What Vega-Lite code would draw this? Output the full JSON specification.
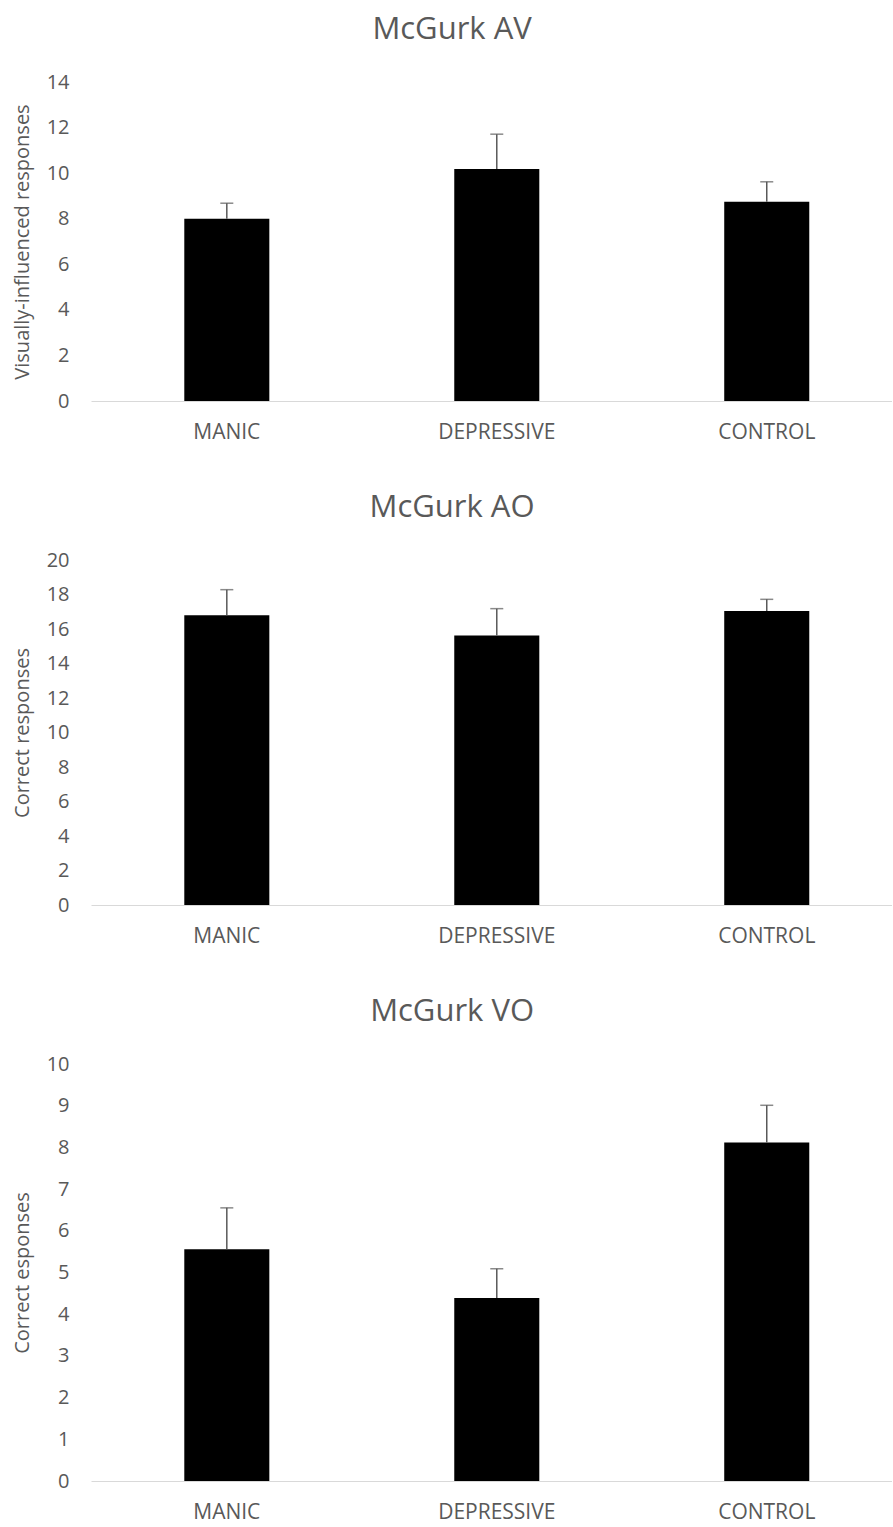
{
  "$schema": "https://vega.github.io/schema/vega-lite/v6.json",
  "background": "white",
  "padding": {"left": 12, "top": 14, "right": 0, "bottom": 0},
  "spacing": 50,
  "datasets": {
    "av": [
      {"group": "MANIC", "mean": 8.0, "upper": 8.68},
      {"group": "DEPRESSIVE", "mean": 10.18, "upper": 11.71},
      {"group": "CONTROL", "mean": 8.75, "upper": 9.62}
    ],
    "ao": [
      {"group": "MANIC", "mean": 16.8, "upper": 18.28},
      {"group": "DEPRESSIVE", "mean": 15.63, "upper": 17.18},
      {"group": "CONTROL", "mean": 17.05, "upper": 17.72}
    ],
    "vo": [
      {"group": "MANIC", "mean": 5.56, "upper": 6.55},
      {"group": "DEPRESSIVE", "mean": 4.39, "upper": 5.09},
      {"group": "CONTROL", "mean": 8.12, "upper": 9.01}
    ]
  },
  "config": {
    "font": "Open Sans",
    "view": {"stroke": null},
    "title": {"font": "Open Sans", "fontSize": 31, "fontWeight": "normal", "color": "#595959", "anchor": "middle", "frame": "bounds", "offset": 26},
    "axisY": {"domain": false, "ticks": false, "grid": false, "labelOverlap": false, "labelFont": "Open Sans", "labelFontSize": 20, "labelColor": "#595959", "labelPadding": 22, "titleFont": "Open Sans", "titleFontSize": 20, "titleFontWeight": "normal", "titleColor": "#595959", "titlePadding": 14},
    "axisX": {"domain": true, "domainColor": "#d9d9d9", "domainWidth": 1, "ticks": false, "labelAngle": 0, "labelFont": "Open Sans", "labelFontSize": 21, "labelColor": "#595959", "labelPadding": 20, "title": null}
  },
  "vconcat": [
    {
      "title": "McGurk AV",
      "width": 801,
      "height": 319,
      "data": {"name": "av"},
      "encoding": {
        "x": {"field": "group", "type": "nominal", "sort": ["MANIC", "DEPRESSIVE", "CONTROL"], "scale": {"paddingInner": 0.685, "paddingOuter": 0.326, "align": 0.53}, "axis": {"title": null}}
      },
      "layer": [
        {"mark": {"type": "bar", "color": "black"}, "encoding": {"y": {"field": "mean", "type": "quantitative", "scale": {"domain": [0, 14]}, "axis": {"values": [0, 2, 4, 6, 8, 10, 12, 14], "labelOverlap": false, "title": "Visually-influenced responses"}}}},
        {"mark": {"type": "rule", "color": "#595959", "strokeWidth": 1.5}, "encoding": {"y": {"field": "mean", "type": "quantitative", "axis": {"values": [0, 2, 4, 6, 8, 10, 12, 14], "labelOverlap": false, "title": "Visually-influenced responses"}}, "y2": {"field": "upper"}}},
        {"mark": {"type": "tick", "color": "#595959", "thickness": 1.5, "size": 13, "orient": "horizontal"}, "encoding": {"y": {"field": "upper", "type": "quantitative", "axis": {"values": [0, 2, 4, 6, 8, 10, 12, 14], "labelOverlap": false, "title": "Visually-influenced responses"}}}}
      ]
    },
    {
      "title": "McGurk AO",
      "width": 801,
      "height": 345,
      "data": {"name": "ao"},
      "encoding": {
        "x": {"field": "group", "type": "nominal", "sort": ["MANIC", "DEPRESSIVE", "CONTROL"], "scale": {"paddingInner": 0.685, "paddingOuter": 0.326, "align": 0.53}, "axis": {"title": null}}
      },
      "layer": [
        {"mark": {"type": "bar", "color": "black"}, "encoding": {"y": {"field": "mean", "type": "quantitative", "scale": {"domain": [0, 20]}, "axis": {"values": [0, 2, 4, 6, 8, 10, 12, 14, 16, 18, 20], "labelOverlap": false, "title": "Correct responses"}}}},
        {"mark": {"type": "rule", "color": "#595959", "strokeWidth": 1.5}, "encoding": {"y": {"field": "mean", "type": "quantitative", "axis": {"values": [0, 2, 4, 6, 8, 10, 12, 14, 16, 18, 20], "labelOverlap": false, "title": "Correct responses"}}, "y2": {"field": "upper"}}},
        {"mark": {"type": "tick", "color": "#595959", "thickness": 1.5, "size": 13, "orient": "horizontal"}, "encoding": {"y": {"field": "upper", "type": "quantitative", "axis": {"values": [0, 2, 4, 6, 8, 10, 12, 14, 16, 18, 20], "labelOverlap": false, "title": "Correct responses"}}}}
      ]
    },
    {
      "title": "McGurk VO",
      "width": 801,
      "height": 417,
      "data": {"name": "vo"},
      "encoding": {
        "x": {"field": "group", "type": "nominal", "sort": ["MANIC", "DEPRESSIVE", "CONTROL"], "scale": {"paddingInner": 0.685, "paddingOuter": 0.326, "align": 0.53}, "axis": {"title": null}}
      },
      "layer": [
        {"mark": {"type": "bar", "color": "black"}, "encoding": {"y": {"field": "mean", "type": "quantitative", "scale": {"domain": [0, 10]}, "axis": {"values": [0, 1, 2, 3, 4, 5, 6, 7, 8, 9, 10], "labelOverlap": false, "title": "Correct esponses"}}}},
        {"mark": {"type": "rule", "color": "#595959", "strokeWidth": 1.5}, "encoding": {"y": {"field": "mean", "type": "quantitative", "axis": {"values": [0, 1, 2, 3, 4, 5, 6, 7, 8, 9, 10], "labelOverlap": false, "title": "Correct esponses"}}, "y2": {"field": "upper"}}},
        {"mark": {"type": "tick", "color": "#595959", "thickness": 1.5, "size": 13, "orient": "horizontal"}, "encoding": {"y": {"field": "upper", "type": "quantitative", "axis": {"values": [0, 1, 2, 3, 4, 5, 6, 7, 8, 9, 10], "labelOverlap": false, "title": "Correct esponses"}}}}
      ]
    }
  ]
}
